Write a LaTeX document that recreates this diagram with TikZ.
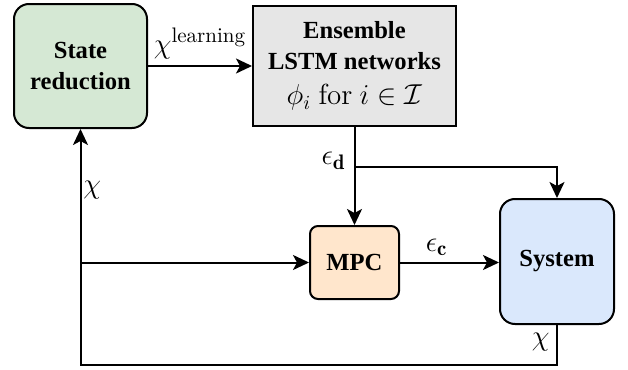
\documentclass[tikz,border=0pt]{standalone}
\usepackage{amsmath}
\usepackage{fontspec}
\newfontfamily\boxfont{Liberation Serif}
\usepackage{tikz}
\usetikzlibrary{arrows.meta,positioning,calc}
\definecolor{greenfill}{HTML}{D5E8D4}
\definecolor{grayfill}{HTML}{E6E6E6}
\definecolor{orangefill}{HTML}{FFE6CC}
\definecolor{bluefill}{HTML}{DAE8FC}
\tikzstyle{block}=[draw=black, line width=1pt, text centered, align=center,
                   font=\boxfont\bfseries\fontsize{12.3}{15.5}\selectfont]
\tikzstyle{arr}  =[-{Stealth[length=8pt,width=7.5pt,inset=2pt]}, line width=1pt]
\tikzstyle{lbl}  =[font=\fontsize{15}{17}\selectfont, inner sep=1pt]

\begin{document}
\begin{tikzpicture}[x=0.5pt, y=-0.5pt]
  \useasboundingbox (0,0) rectangle (628,370);

  % ── nodes ──────────────────────────────────────────────────────────────────
  \node[block, fill=greenfill, rounded corners=7.5pt,
        minimum width=66.5pt, minimum height=62pt]   (red) at (80.5, 66)   {State\\reduction};
  \node[block, fill=grayfill,
        minimum width=101.5pt, minimum height=60pt]  (ens) at (354.5, 66)  {Ensemble\\LSTM networks\\[2pt]
        {\fontsize{14.5}{16}\selectfont$\phi_i\ \mathrm{for}\ i \in \mathcal{I}$}};
  \node[block, fill=orangefill, rounded corners=4pt,
        minimum width=44.5pt, minimum height=36.5pt] (mpc) at (354.5, 262.5) {MPC};
  \node[block, fill=bluefill, rounded corners=7.5pt,
        minimum width=57pt, minimum height=62.5pt]   (sys) at (557, 261.5)   {System};

  % ── forward path ───────────────────────────────────────────────────────────
  \draw[arr] (red.east) -- node[lbl, above, inner sep=3pt] {$\chi^{\mathrm{learning}}$} (ens.west);
  \draw[arr] (ens.south) -- (mpc.north);
  \coordinate (split) at (354.5, 167);
  \draw[arr] (split) -| (sys.north);
  \node[lbl, anchor=east] (epsd) at (348, 161) {$\epsilon_{\mathbf{d}}$};
  \draw[arr] (mpc.east) -- node[lbl, above, pos=0.37, inner sep=3pt] {$\epsilon_{\mathbf{c}}$} (mpc.east -| sys.west);

  % ── feedback (below everything, back up the left side) ─────────────────────
  \coordinate (botr) at (557, 365);
  \coordinate (botl) at (80.5, 365);
  \draw[arr] (sys.south) -- (botr) -- (botl) -- (red.south);
  \coordinate (tap) at (80.5, 262.5);
  \draw[arr] (tap) -- (mpc.west);
  \node[lbl, anchor=west] (chil) at (81, 190) {$\chi$};
  \node[lbl, anchor=east] (chis) at (552, 342) {$\chi$};

\end{tikzpicture}
\end{document}
